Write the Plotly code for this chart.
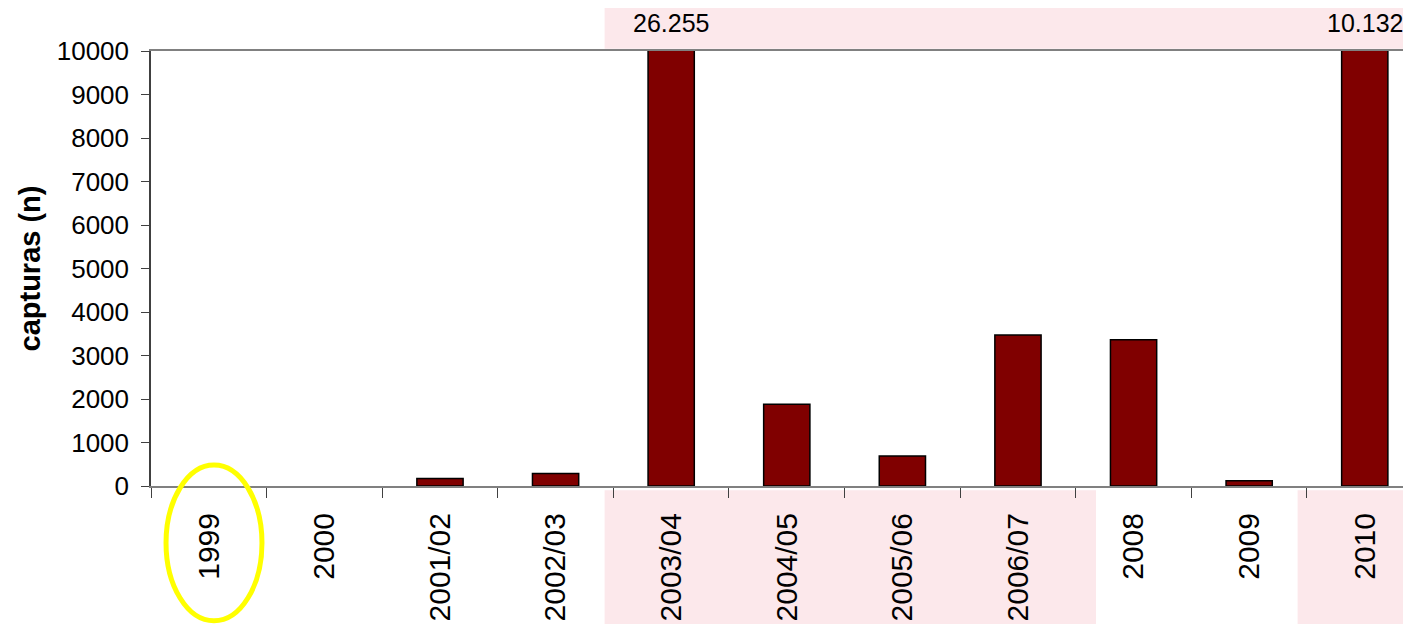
import plotly.graph_objects as go

# capturas por temporada
temporadas = ["1999", "2000", "2001/02", "2002/03", "2003/04", "2004/05",
              "2005/06", "2006/07", "2008", "2009", "2010"]
capturas = [0, 0, 170, 290, 26255, 1880, 690, 3470, 3360, 120, 10132]
y_ticks = list(range(0, 10001, 1000))
y_max = 10000

fig = go.Figure()
fig.add_trace(
    go.Bar(
        x=temporadas,
        y=capturas,
        marker=dict(
            color="#800000",
            # no outline on empty seasons
            line=dict(color="black", width=[1.5 if v > 0 else 0 for v in capturas]),
        ),
        width=0.4,
        showlegend=False,
    )
)

# bars cut at the top of the axis get their real value written above
for i, v in enumerate(capturas):
    if v > y_max:
        fig.add_annotation(
            x=i, y=1, yref="paper", yanchor="bottom", yshift=12,
            text=f"{v:,}".replace(",", "."), showarrow=False,
            font=dict(size=25, color="black"),
        )

# faint background tint outside the plot area
for x0, x1, y0, y1 in [(0.36, 0.75, -0.32, -0.01), (0.91, 1.0, -0.32, -0.01),
                       (0.36, 1.0, 1.005, 1.12)]:
    fig.add_shape(type="rect", xref="paper", yref="paper", x0=x0, x1=x1,
                  y0=y0, y1=y1, fillcolor="#fbe2e6", line_width=0,
                  layer="below", opacity=0.8)

# yellow ring around 1999
fig.add_shape(type="circle", xref="x", yref="paper", x0=-0.37, x1=0.46,
              y0=-0.31, y1=0.048, line=dict(color="#ffff00", width=5))

# page body has an 8px margin, so the figure is 8px smaller than the window
fig.update_layout(
    width=1403,
    height=616,
    margin=dict(l=143, r=0, t=43, b=138),
    paper_bgcolor="white",
    plot_bgcolor="white",
    font=dict(family="Arial, Liberation Sans, sans-serif", color="black"),
    bargap=0.6,
    xaxis=dict(
        type="category",
        range=[-0.5, 10.4],
        tickangle=-90,
        tickfont=dict(size=30),
        ticks="outside",
        ticklen=10,
        tickcolor="#404040",
        tickson="boundaries",
        ticklabelstandoff=13,
        showline=True,
        linecolor="#808080",
        linewidth=2,
        mirror=True,
        showgrid=False,
        automargin=False,
    ),
    yaxis=dict(
        range=[0, y_max],
        tickvals=y_ticks,
        ticktext=[str(t) for t in y_ticks],
        tickfont=dict(size=26),
        ticks="outside",
        ticklen=8,
        tickcolor="#404040",
        ticklabelstandoff=7,
        showline=True,
        linecolor="#404040",
        linewidth=1.5,
        showgrid=False,
        zeroline=False,
        automargin=False,
        title=dict(text="<b>capturas (n)</b>", font=dict(size=29), standoff=8),
    ),
)

fig.write_html("out.html")
